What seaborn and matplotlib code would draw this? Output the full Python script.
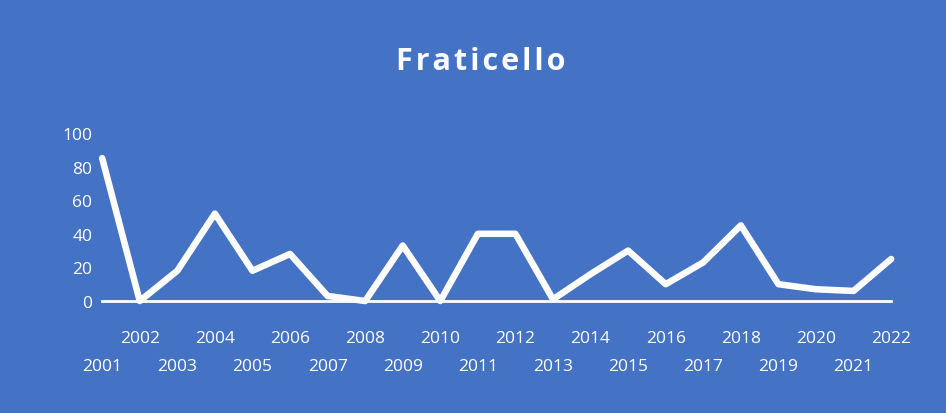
import pandas as pd
import matplotlib.pyplot as plt
import seaborn as sns

years = list(range(2001, 2023))
values = [85, 0, 18, 52, 18, 28, 3, 0, 33, 0, 40, 40, 1, 16, 30, 10, 23, 45, 10, 7, 6, 25]
y_ticks = [0, 20, 40, 60, 80, 100]
title = 'Fraticello'

bg = '#4472C4'

sns.set_style('white')
plt.rcParams['font.family'] = ['Open Sans', 'DejaVu Sans']

df = pd.DataFrame({'year': years, 'value': values})

fig = plt.figure(figsize=(9.46, 4.14), dpi=100, facecolor=bg)
ax = fig.add_axes([0.108, 0.2705, 0.834, 0.406])
ax.set_facecolor(bg)

# white line, allowed to run over the axes edges like the original
sns.lineplot(data=df, x='year', y='value', ax=ax, color='white',
             linewidth=4.7, clip_on=False)

ax.set_xlim(years[0], years[-1])
ax.set_ylim(0, 100)
ax.set_yticks(y_ticks)
ax.set_yticklabels([str(v) for v in y_ticks], color='white', fontsize=12.5)

# staggered labels: even years on the upper row (major), odd years below (minor)
even = [y for y in years if y % 2 == 0]
odd = [y for y in years if y % 2 == 1]
ax.set_xticks(even)
ax.set_xticklabels([str(y) for y in even], color='white', fontsize=12.5)
ax.set_xticks(odd, minor=True)
ax.set_xticklabels([str(y) for y in odd], minor=True, color='white', fontsize=12.5)
ax.tick_params(axis='y', length=0, pad=7)
ax.tick_params(axis='x', which='major', length=0, pad=21)
ax.tick_params(axis='x', which='minor', length=0, pad=41)

for side in ['top', 'right', 'left']:
    ax.spines[side].set_visible(False)
ax.spines['bottom'].set_color('white')
ax.spines['bottom'].set_linewidth(2)
ax.set_xlabel('')
ax.set_ylabel('')

spaced = '\u200a'.join(title)
fig.text(0.508, 0.85, spaced, ha='center', va='center', color='white',
         fontsize=22, fontweight='bold')

fig.savefig('out.png', facecolor=bg)
